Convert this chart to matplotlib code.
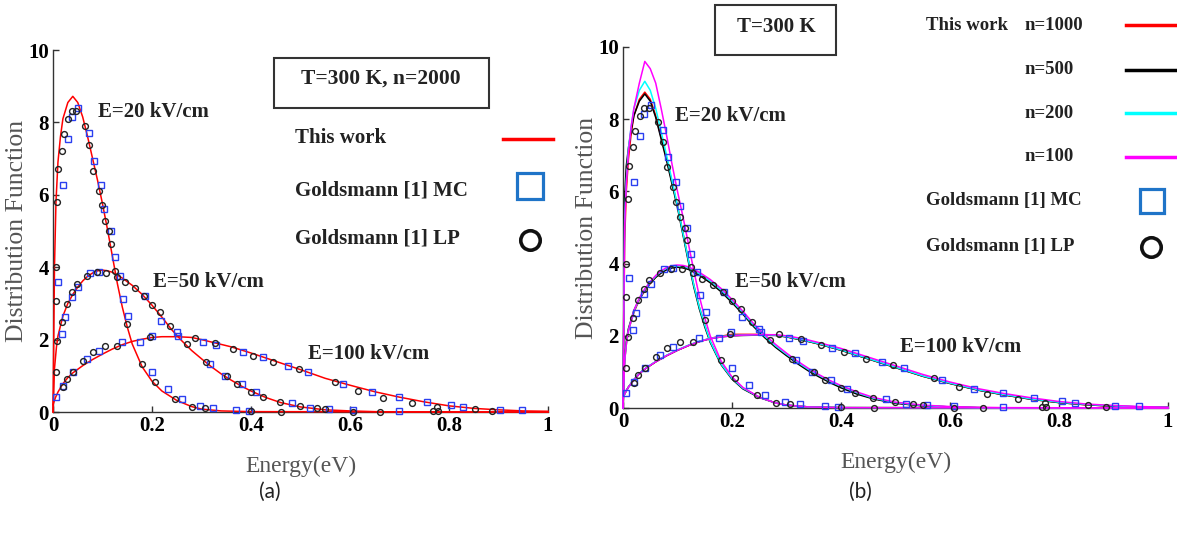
import matplotlib
matplotlib.use("Agg")
import matplotlib.pyplot as plt
from matplotlib.lines import Line2D
from matplotlib.patches import Rectangle

# --- data ---
# energy grids (eV)
E20_X = [0, 0.003, 0.006, 0.01, 0.015, 0.02, 0.03, 0.04, 0.05, 0.06, 0.07, 0.08, 0.09, 0.1,
         0.11, 0.12, 0.13, 0.14, 0.15, 0.16, 0.18, 0.2, 0.22, 0.25, 0.28, 0.3, 0.34, 0.4, 1.0]
E50_X = [0, 0.003, 0.007, 0.01, 0.02, 0.03, 0.04, 0.05, 0.06, 0.07, 0.08, 0.09, 0.1, 0.11,
         0.12, 0.14, 0.16, 0.18, 0.2, 0.22, 0.24, 0.26, 0.28, 0.3, 0.32, 0.34, 0.36, 0.38,
         0.4, 0.43, 0.46, 0.5, 0.55, 0.6, 0.65, 0.7, 1.0]
E100_X = [0, 0.005, 0.01, 0.02, 0.03, 0.04, 0.06, 0.08, 0.1, 0.12, 0.14, 0.16, 0.18, 0.2,
          0.22, 0.25, 0.28, 0.3, 0.33, 0.36, 0.4, 0.45, 0.5, 0.55, 0.6, 0.65, 0.7, 0.75,
          0.8, 0.85, 0.9, 0.95, 1.0]

# panel (a): this work, n=2000
e20_n2000 = [0, 4.0, 5.8, 6.9, 7.6, 8.1, 8.55, 8.72, 8.55, 8.15, 7.6, 7.0, 6.4, 5.75,
             5.05, 4.3, 3.55, 2.9, 2.35, 1.88, 1.25, 0.85, 0.58, 0.32, 0.15, 0.08, 0.03, 0.01, 0]
e50_n2000 = [0, 1.2, 1.8, 2.1, 2.65, 3.0, 3.25, 3.45, 3.62, 3.75, 3.84, 3.9, 3.92, 3.9,
             3.86, 3.7, 3.5, 3.25, 2.95, 2.62, 2.27, 1.97, 1.7, 1.47, 1.25, 1.05, 0.88, 0.72,
             0.58, 0.4, 0.26, 0.14, 0.06, 0.03, 0.01, 0, 0]
e100_n2000 = [0.2, 0.4, 0.55, 0.78, 0.95, 1.08, 1.28, 1.45, 1.6, 1.74, 1.86, 1.95, 2.01, 2.06,
              2.08, 2.08, 2.06, 2.0, 1.9, 1.8, 1.63, 1.4, 1.17, 0.93, 0.74, 0.56, 0.41, 0.28,
              0.17, 0.1, 0.06, 0.03, 0.02]

# panel (b): this work, n=1000 / 500 / 200 / 100
e20_b = {
    "n=1000": [0, 4.6, 6.0, 6.9, 7.6, 8.1, 8.55, 8.75, 8.55, 8.1, 7.5, 6.9, 6.25, 5.6,
               4.85, 4.1, 3.4, 2.8, 2.3, 1.85, 1.22, 0.82, 0.55, 0.3, 0.14, 0.08, 0.03, 0.01, 0],
    "n=500": [0, 5.8, 6.7, 7.2, 7.7, 8.1, 8.5, 8.7, 8.5, 8.05, 7.45, 6.85, 6.2, 5.55,
              4.8, 4.05, 3.35, 2.75, 2.25, 1.82, 1.2, 0.8, 0.53, 0.29, 0.14, 0.08, 0.03, 0.01, 0],
    "n=200": [0, 5.2, 6.3, 7.2, 7.8, 8.3, 8.8, 9.05, 8.8, 8.3, 7.65, 7.0, 6.3, 5.6,
              4.85, 4.1, 3.4, 2.8, 2.3, 1.85, 1.22, 0.82, 0.55, 0.3, 0.14, 0.08, 0.03, 0.01, 0],
    "n=100": [0, 5.0, 6.2, 7.1, 7.8, 8.3, 9.0, 9.6, 9.4, 9.0, 8.3, 7.55, 6.75, 6.0,
              5.3, 4.55, 3.8, 3.1, 2.5, 2.0, 1.3, 0.86, 0.57, 0.3, 0.14, 0.08, 0.03, 0.01, 0],
}
e50_b = {
    "n=1000": [0, 1.3, 1.9, 2.15, 2.65, 3.0, 3.25, 3.45, 3.62, 3.75, 3.84, 3.9, 3.92, 3.9,
               3.86, 3.7, 3.5, 3.25, 2.95, 2.62, 2.27, 1.97, 1.7, 1.47, 1.25, 1.05, 0.88, 0.72,
               0.58, 0.4, 0.26, 0.14, 0.06, 0.03, 0.01, 0, 0],
    "n=500": [0, 1.4, 1.95, 2.2, 2.7, 3.02, 3.27, 3.46, 3.62, 3.74, 3.83, 3.88, 3.9, 3.88,
              3.84, 3.68, 3.47, 3.22, 2.92, 2.6, 2.25, 1.95, 1.68, 1.45, 1.23, 1.03, 0.86, 0.7,
              0.56, 0.38, 0.25, 0.13, 0.06, 0.03, 0.01, 0, 0],
    "n=200": [0, 1.3, 1.9, 2.15, 2.68, 3.03, 3.28, 3.48, 3.65, 3.78, 3.87, 3.92, 3.94, 3.92,
              3.88, 3.72, 3.52, 3.27, 2.97, 2.64, 2.29, 1.99, 1.72, 1.49, 1.27, 1.07, 0.9, 0.74,
              0.6, 0.42, 0.27, 0.15, 0.07, 0.03, 0.01, 0, 0],
    "n=100": [0, 1.3, 1.9, 2.15, 2.7, 3.05, 3.3, 3.5, 3.67, 3.8, 3.89, 3.94, 3.96, 3.95,
              3.91, 3.76, 3.56, 3.31, 3.01, 2.68, 2.33, 2.03, 1.76, 1.52, 1.3, 1.1, 0.92, 0.76,
              0.62, 0.44, 0.29, 0.16, 0.08, 0.04, 0.02, 0.01, 0],
}
e100_b = {
    "n=1000": [0.3, 0.45, 0.58, 0.78, 0.95, 1.08, 1.28, 1.45, 1.6, 1.73, 1.84, 1.93, 1.99, 2.04,
               2.04, 2.04, 2.02, 1.97, 1.88, 1.77, 1.6, 1.36, 1.12, 0.88, 0.68, 0.5, 0.36, 0.24,
               0.15, 0.09, 0.05, 0.03, 0.02],
    "n=500": [0.3, 0.45, 0.58, 0.78, 0.95, 1.08, 1.28, 1.45, 1.6, 1.73, 1.84, 1.92, 1.97, 2.0,
              2.01, 2.02, 2.01, 1.97, 1.88, 1.77, 1.6, 1.36, 1.12, 0.88, 0.68, 0.5, 0.36, 0.24,
              0.15, 0.09, 0.05, 0.03, 0.02],
    "n=200": [0.3, 0.45, 0.58, 0.79, 0.96, 1.09, 1.29, 1.46, 1.61, 1.74, 1.85, 1.93, 1.98, 2.01,
              2.02, 2.03, 2.02, 1.98, 1.89, 1.78, 1.61, 1.37, 1.13, 0.89, 0.69, 0.51, 0.37, 0.25,
              0.16, 0.1, 0.06, 0.03, 0.02],
    "n=100": [0.3, 0.45, 0.58, 0.78, 0.95, 1.08, 1.28, 1.45, 1.6, 1.73, 1.84, 1.92, 1.97, 2.0,
              2.02, 2.03, 2.03, 2.0, 1.92, 1.81, 1.65, 1.41, 1.17, 0.93, 0.72, 0.54, 0.4, 0.28,
              0.18, 0.11, 0.07, 0.04, 0.02],
}
B_COLORS = {"n=1000": "#ff0000", "n=500": "#000000", "n=200": "#00ffff", "n=100": "#ff00ff"}

# Goldsmann [1] MC (squares)
mc_x = [0.011, 0.0195, 0.031, 0.039, 0.051, 0.073, 0.083, 0.097, 0.104, 0.117, 0.125, 0.142,
        0.152, 0.200, 0.232, 0.260, 0.297, 0.324, 0.370, 0.395,
        0.018, 0.024, 0.038, 0.051, 0.075, 0.092, 0.135, 0.186, 0.219, 0.250, 0.317, 0.347,
        0.381, 0.411, 0.482, 0.519, 0.557, 0.607,
        0.006, 0.020, 0.041, 0.068, 0.092, 0.139, 0.176, 0.199, 0.253, 0.304, 0.330, 0.384,
        0.425, 0.475, 0.516, 0.586, 0.644, 0.698, 0.755, 0.805, 0.829, 0.903, 0.947, 0.698]
mc_y = [3.60, 6.27, 7.54, 8.14, 8.39, 7.70, 6.94, 6.27, 5.60, 5.00, 4.27, 3.12,
        2.66, 1.10, 0.64, 0.36, 0.16, 0.10, 0.05, 0.04,
        2.15, 2.62, 3.17, 3.44, 3.84, 3.88, 3.77, 3.21, 2.52, 2.20, 1.33, 1.00,
        0.77, 0.54, 0.25, 0.12, 0.08, 0.05,
        0.41, 0.73, 1.10, 1.46, 1.69, 1.93, 1.93, 2.10, 2.11, 1.93, 1.85, 1.67,
        1.51, 1.28, 1.11, 0.77, 0.54, 0.41, 0.29, 0.19, 0.13, 0.06, 0.06, 0.04]

# Goldsmann [1] LP (circles)
lp_x = [0.006, 0.009, 0.011, 0.018, 0.022, 0.031, 0.038, 0.047, 0.065, 0.073, 0.081, 0.092,
        0.098, 0.105, 0.113, 0.117, 0.125, 0.150, 0.179, 0.206, 0.246, 0.280, 0.307,
        0.006, 0.009, 0.018, 0.028, 0.038, 0.048, 0.068, 0.088, 0.108, 0.129, 0.145, 0.166,
        0.183, 0.200, 0.216, 0.236, 0.270, 0.310, 0.351, 0.371, 0.400, 0.425, 0.459, 0.499,
        0.533, 0.550,
        0.006, 0.020, 0.028, 0.041, 0.061, 0.081, 0.105, 0.129, 0.196, 0.287, 0.327, 0.364,
        0.405, 0.445, 0.496, 0.570, 0.617, 0.667, 0.725, 0.775, 0.853,
        0.400, 0.460, 0.607, 0.660, 0.768, 0.777, 0.886]
lp_y = [4.00, 5.79, 6.71, 7.22, 7.68, 8.09, 8.32, 8.32, 7.91, 7.38, 6.67, 6.11,
        5.72, 5.28, 5.00, 4.64, 3.90, 2.43, 1.33, 0.82, 0.36, 0.13, 0.10,
        3.07, 1.97, 2.48, 2.98, 3.31, 3.54, 3.75, 3.86, 3.85, 3.74, 3.58, 3.42,
        3.20, 2.96, 2.75, 2.38, 1.88, 1.37, 1.00, 0.77, 0.56, 0.41, 0.27, 0.17,
        0.10, 0.08,
        1.10, 0.68, 0.92, 1.11, 1.42, 1.65, 1.83, 1.83, 2.06, 2.04, 1.91, 1.74,
        1.56, 1.37, 1.19, 0.82, 0.59, 0.40, 0.25, 0.13, 0.08,
        0.02, 0.00, 0.01, 0.01, 0.04, 0.04, 0.04]

FIELD_LABELS = ["E=20 kV/cm", "E=50 kV/cm", "E=100 kV/cm"]
LABEL_POS_A = [(0.091, 8.3), (0.202, 3.6), (0.515, 1.6)]
LABEL_POS_B = [(0.095, 8.1), (0.206, 3.5), (0.508, 1.7)]
X_TICKS = [0, 0.2, 0.4, 0.6, 0.8, 1]
X_TICKLABELS = ["0", "0.2", "0.4", "0.6", "0.8", "1"]
Y_TICKS = [0, 2, 4, 6, 8, 10]

W, H = 1177, 534
SERIF = ["Liberation Serif", "DejaVu Serif"]
MC_COLOR = "#2a3ff0"
LP_COLOR = "#222222"


def fx(px):
    return px / W


def fy(py):
    return 1 - py / H


def style_axes(ax, label_pos):
    ax.set_xlim(0, 1)
    ax.set_ylim(0, 10)
    ax.spines["top"].set_visible(False)
    ax.spines["right"].set_visible(False)
    for s in ("left", "bottom"):
        ax.spines[s].set_color("#333333")
        ax.spines[s].set_linewidth(1.0)
    ax.set_xticks(X_TICKS)
    ax.set_xticklabels(X_TICKLABELS)
    ax.set_yticks(Y_TICKS)
    ax.tick_params(direction="in", length=4, width=1, color="#333333", pad=3)
    for t in ax.get_xticklabels() + ax.get_yticklabels():
        t.set_family(SERIF)
        t.set_fontweight("bold")
        t.set_fontsize(15)
    ax.set_xlabel("Energy(eV)", family=SERIF, fontsize=17, color="#555555", labelpad=14)
    ax.set_ylabel("Distribution Function", family=SERIF, fontsize=18.5, color="#555555",
                  labelpad=0)
    for txt, (x, y) in zip(FIELD_LABELS, label_pos):
        ax.text(x, y, txt, family=SERIF, fontweight="bold", fontsize=15, color="#222222",
                va="center", ha="left")


def draw_markers(ax):
    ax.plot(mc_x, mc_y, ls="none", marker="s", ms=4.4, mfc="none", mec=MC_COLOR, mew=1.0,
            clip_on=False, zorder=4)
    ax.plot(lp_x, lp_y, ls="none", marker="o", ms=4.2, mfc="none", mec=LP_COLOR, mew=1.0,
            clip_on=False, zorder=4)


fig = plt.figure(figsize=(W / 100, H / 100), dpi=100)

# ---- panel (a) ----
ax_a = fig.add_axes([fx(53), fy(412), (548 - 53) / W, (412 - 50) / H])
for xs, ys in ((E20_X, e20_n2000), (E50_X, e50_n2000), (E100_X, e100_n2000)):
    ax_a.plot(xs, ys, color="#ff0000", lw=1.1, clip_on=False, zorder=3)
draw_markers(ax_a)
style_axes(ax_a, LABEL_POS_A)

# ---- panel (b) ----
ax_b = fig.add_axes([fx(623), fy(408), (1168 - 623) / W, (408 - 47) / H])
for key in ["n=1000", "n=500", "n=200", "n=100"]:
    for xs, ys in ((E20_X, e20_b[key]), (E50_X, e50_b[key]), (E100_X, e100_b[key])):
        ax_b.plot(xs, ys, color=B_COLORS[key], lw=1.1, clip_on=False, zorder=3)
draw_markers(ax_b)
style_axes(ax_b, LABEL_POS_B)

# ---- boxes and hand-placed legends ----
fig.add_artist(Rectangle((fx(274), fy(108)), (489 - 274) / W, (108 - 58) / H,
                         transform=fig.transFigure, fill=False, ec="#333333", lw=1.5))
fig.text(fx(381), fy(79), "T=300 K, n=2000", family=SERIF, fontweight="bold", fontsize=15.5,
         ha="center", va="center", color="#222222")
fig.add_artist(Rectangle((fx(715), fy(55)), (836 - 715) / W, (55 - 5) / H,
                         transform=fig.transFigure, fill=False, ec="#333333", lw=1.5))
fig.text(fx(776), fy(27), "T=300 K", family=SERIF, fontweight="bold", fontsize=15,
         ha="center", va="center", color="#222222")

leg_kw = dict(family=SERIF, fontweight="bold", ha="left", va="center", color="#222222")
# (a)
fig.text(fx(295), fy(138), "This work", fontsize=15, **leg_kw)
fig.text(fx(295), fy(190), "Goldsmann [1] MC", fontsize=15, **leg_kw)
fig.text(fx(295), fy(239), "Goldsmann [1] LP", fontsize=15, **leg_kw)
fig.add_artist(Line2D([fx(503), fx(553)], [fy(139), fy(139)], transform=fig.transFigure,
                      color="#ff0000", lw=2.5))
fig.add_artist(Line2D([fx(530)], [fy(186)], transform=fig.transFigure, ls="none",
                      marker="s", ms=19, mfc="none", mec="#1f74c8", mew=2.3))
fig.add_artist(Line2D([fx(530)], [fy(240)], transform=fig.transFigure, ls="none",
                      marker="o", ms=14, mfc="none", mec="#111111", mew=2.6))
# (b)
fig.text(fx(926), fy(25), "This work", fontsize=13.5, **leg_kw)
b_rows = [("n=1000", 25), ("n=500", 70), ("n=200", 113), ("n=100", 157)]
for key, py in b_rows:
    fig.text(fx(1024), fy(py), key, fontsize=13.5, **leg_kw)
    fig.add_artist(Line2D([fx(1126), fx(1177)], [fy(py), fy(py)], transform=fig.transFigure,
                          color=B_COLORS[key], lw=2.5))
fig.text(fx(926), fy(201), "Goldsmann [1] MC", fontsize=13.5, **leg_kw)
fig.text(fx(926), fy(247), "Goldsmann [1] LP", fontsize=13.5, **leg_kw)
fig.add_artist(Line2D([fx(1152)], [fy(201)], transform=fig.transFigure, ls="none",
                      marker="s", ms=17, mfc="none", mec="#1f74c8", mew=2.3))
fig.add_artist(Line2D([fx(1151)], [fy(247)], transform=fig.transFigure, ls="none",
                      marker="o", ms=14, mfc="none", mec="#111111", mew=2.6))

# captions
fig.text(fx(270), fy(492), "(a)", family=["Lato", "DejaVu Sans"], fontsize=15,
         ha="center", va="center", color="#222222")
fig.text(fx(860), fy(492), "(b)", family=["Lato", "DejaVu Sans"], fontsize=15,
         ha="center", va="center", color="#222222")

fig.savefig("out.png", dpi=100, facecolor="white")
